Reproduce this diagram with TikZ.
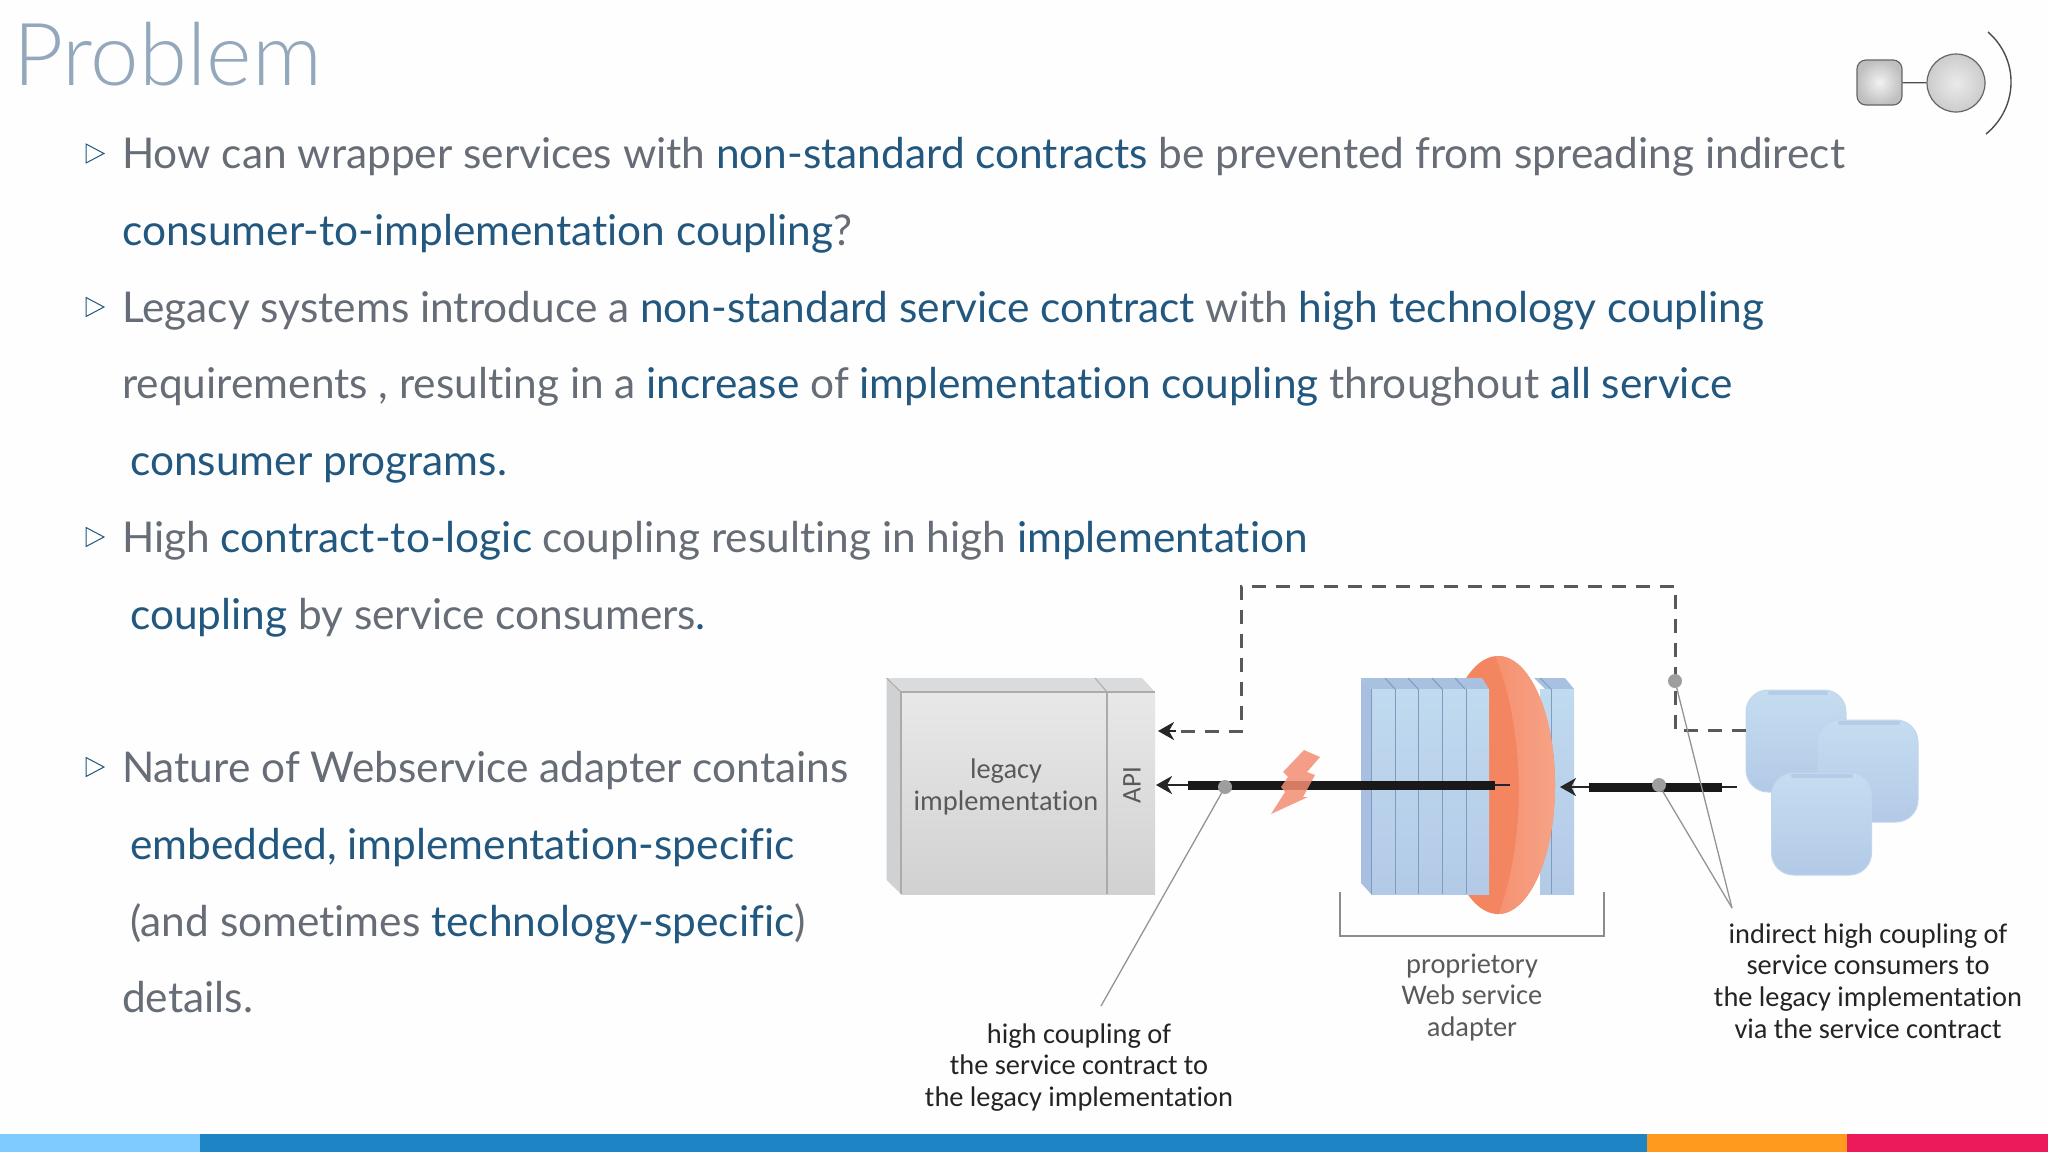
\documentclass[tikz,border=0pt]{standalone}
\usepackage{fontspec}
\setmainfont{Lato}[Ligatures=NoCommon]
\newfontfamily\ttlfont{Lato Light}[Ligatures=NoCommon]
\newfontfamily\dgfont{Carlito}[Ligatures=NoCommon]
\usetikzlibrary{arrows.meta}
\definecolor{txtgray}{HTML}{666D76}
\definecolor{txtblue}{HTML}{22587F}
\definecolor{ttlcol}{HTML}{93A8BC}
\definecolor{dgtext}{HTML}{222426}
\definecolor{panelA}{HTML}{C0DAEF}
\definecolor{panelB}{HTML}{B3CAE7}
\definecolor{panelLine}{HTML}{7F9CBE}
\definecolor{panelSide}{HTML}{A9BFE2}
\definecolor{panelTop}{HTML}{A8C1E0}
\definecolor{disk}{HTML}{F38560}
\definecolor{diskLight}{HTML}{F7A488}
\definecolor{barA}{HTML}{7FCBFF}
\definecolor{barB}{HTML}{1F84C4}
\definecolor{barC}{HTML}{FF9A1F}
\definecolor{barD}{HTML}{EC1A5B}
\definecolor{boxTop}{HTML}{DADBDD}
\definecolor{boxSide}{HTML}{D0D1D3}
\definecolor{bolt}{HTML}{F38E73}
\newcommand{\B}[1]{\textcolor{txtblue}{#1}}
\tikzset{
  lineText/.style={anchor=base west,inner sep=0pt,text=txtgray,font=\fontsize{42.4}{50}\selectfont},
  bulletMark/.style={draw=txtblue,line width=1pt,fill=white,line join=miter},
  dgLabel/.style={align=center,inner sep=0pt,text=dgtext,font=\dgfont\fontsize{28.4}{31.7}\selectfont},
  thickBar/.style={line width=9pt,draw=black!90},
  thinBar/.style={line width=2.4pt,draw=black!85},
  arrowed/.style={-{Stealth[length=16pt,width=18pt,inset=5pt]}},
  dashLink/.style={line width=3pt,draw=black!65,dash pattern=on 14pt off 10pt},
  leader/.style={line width=1.3pt,draw=black!42},
  dotMark/.style={circle,fill=black!38,inner sep=0pt,minimum size=14pt},
  consumer/.style={rounded corners=22pt,draw=panelB!80!white,line width=1pt,top color=panelA!92!white,bottom color=panelB,minimum width=100pt,minimum height=102pt,inner sep=0pt},
  consumerTop/.style={line width=4pt,draw=panelTop!55!panelA,line cap=round},
  panelLn/.style={line width=1pt,draw=panelLine},
}
\begin{document}
\begin{tikzpicture}[x=1pt,y=-1pt]
\useasboundingbox (0,0) rectangle (2048,1152);
\fill[white!99.5!black] (0,0) rectangle (2048,1152);
% footer bar
\fill[barA] (0,1134) rectangle (200,1152);
\fill[barB] (200,1134) rectangle (1647,1152);
\fill[barC] (1647,1134) rectangle (1847,1152);
\fill[barD] (1847,1134) rectangle (2048,1152);
% title
\node[anchor=base west,inner sep=0pt,text=ttlcol,font=\ttlfont\fontsize{87}{89}\selectfont] (title) at (13,85) {Problem};
% body text
\node[lineText] (l1) at (122,168) {How can wrapper services with \B{non-standard contracts} be prevented from spreading indirect};
\node[lineText] (l2) at (122,245) {\B{consumer-to-implementation coupling}?};
\node[lineText] (l3) at (122,322) {Legacy systems introduce a \B{non-standard service contract} with \B{high technology coupling}};
\node[lineText] (l4) at (122,398) {requirements , resulting in a \B{increase} of \B{implementation coupling} throughout \B{all service}};
\node[lineText] (l5) at (130,475) {\B{consumer programs.}};
\node[lineText] (l6) at (122,552) {High \B{contract-to-logic} coupling resulting in high \B{implementation}};
\node[lineText] (l7) at (130,629) {\B{coupling} by service consumers\B{.}};
\node[lineText] (l8) at (122,782) {Nature of Webservice adapter contains};
\node[lineText] (l9) at (130,859) {\B{embedded, implementation-specific}};
\node[lineText] (l10) at (130,936) {(and sometimes \B{technology-specific})};
\node[lineText] (l11) at (122,1012) {details.};
% bullets
\foreach \by in {153.5,307,537,767}
  \draw[bulletMark] (86,\by-9.5) -- (104,\by) -- (86,\by+9.5) -- cycle;
% logo
\node[draw=black!60,line width=1.2pt,rounded corners=9pt,minimum width=45pt,minimum height=45pt,inner sep=0pt,inner color=white!95!black,outer color=black!25] (logoS) at (1879.5,82.5) {};
\node[circle,draw=black!60,line width=1.2pt,minimum size=58pt,inner sep=0pt,inner color=white!92!black,outer color=black!20] (logoC) at (1956,83) {};
\draw[line width=1.2pt,draw=black!70] (logoS) -- (logoC);
\draw[line width=1.4pt,draw=black!70] (1988,32) .. controls (2020,60) and (2018,108) .. (1986,134);
% legacy box
\fill[boxTop] (886.5,678) -- (1142,678) -- (1155,692) -- (901,692) -- cycle;
\fill[boxSide] (886.5,678) -- (901,692) -- (901,894) -- (886.5,880) -- cycle;
\shade[top color=black!9,bottom color=black!18] (901,692) rectangle (1155,894);
\draw[line width=1.2pt,draw=black!33] (901,692) -- (1155,692);
\draw[line width=1.2pt,draw=black!33] (901,692) -- (901,894);
\draw[line width=1.2pt,draw=black!33] (1107,692) -- (1107,894);
\draw[line width=1pt,draw=black!33] (1095,678) -- (1107,692);
\draw[line width=1pt,draw=black!33] (886.5,678) -- (901,692);
\node[dgLabel,text=black!65] (legacy) at (1006,787) {legacy\\implementation};
\node[dgLabel,text=black!65,rotate=90,font=\dgfont\fontsize{27}{30}\selectfont] (api) at (1132,785) {API};
% rear panel
\fill[panelTop] (1534,678) -- (1565,678) -- (1574,689) -- (1545,689) -- cycle;
\shade[top color=panelA,bottom color=panelB] (1540,689) rectangle (1574,894);
\draw[panelLn] (1551,689) -- (1551,894);
\draw[panelLn] (1540,678) -- (1551,689);
% disk
\fill[disk] (1498,785) ellipse [x radius=57,y radius=129];
\begin{scope}
\clip (1498,785) ellipse [x radius=57,y radius=129];
\shade[left color=disk!60!diskLight,right color=diskLight] (1495,656) .. controls (1522,720) and (1530,830) .. (1498,916) -- (1560,916) -- (1560,656) -- cycle;
\end{scope}
% front panels
\fill[panelSide] (1361,678) -- (1371,689) -- (1371,894) -- (1361,883) -- cycle;
\fill[panelTop] (1361,678) -- (1482,678) -- (1489,689) -- (1371,689) -- cycle;
\shade[top color=panelA,bottom color=panelB] (1371,689) rectangle (1489,894);
\foreach \px in {1371,1395,1418,1442,1466}
  \draw[panelLn] (\px,689) -- (\px,894);
\foreach \px in {1385,1408,1432,1455}
  \draw[panelLn] (\px,678) -- (\px+10,689);
% consumers
\node[consumer] (consA) at (1796,741) {};
\draw[consumerTop] (1770,692.5) -- (1826,692.5);
\node[consumer] (consB) at (1868,771) {};
\draw[consumerTop] (1840,722.5) -- (1898,722.5);
\node[consumer] (consC) at (1821.5,824) {};
\draw[consumerTop] (1793,775.5) -- (1851,775.5);
% connector anchors
\coordinate (apiTop) at (1158,731);
\coordinate (apiMid) at (1156,785);
\coordinate (leftBarA) at (1188,785);
\coordinate (leftBarB) at (1495,785);
\coordinate (leftThin) at (1510,785);
\coordinate (rearTip) at (1560,787);
\coordinate (rightBarA) at (1589,787);
\coordinate (rightBarB) at (1722,787);
\coordinate (rightThin) at (1737,787);
\coordinate (leadL) at (1101,1006);
\coordinate (leadR) at (1732,908);
% dashed link
\draw[dashLink] (consA.west |- 0,730) -- (1675,730) -- (1675,586) -- (1241,586) -- (1241,731) -- (1176,731);
\draw[line width=2.6pt,draw=black!85,arrowed] (1176,731) -- (apiTop);
% solid links
\draw[thinBar,arrowed] (leftBarA) -- (apiMid);
\draw[thickBar] (leftBarA) -- (leftBarB);
\draw[thinBar] (leftBarB) -- (leftThin);
\draw[thinBar,arrowed] (rightBarA) -- (rearTip);
\draw[thickBar] (rightBarA) -- (rightBarB);
\draw[thinBar] (rightBarB) -- (rightThin);
% leaders and dots
\node[dotMark] (dotL) at (1225,787) {};
\node[dotMark] (dotM) at (1659,785) {};
\node[dotMark] (dotT) at (1675,681) {};
\draw[leader] (dotL) -- (leadL);
\draw[leader] (dotM) -- (leadR);
\draw[leader] (dotT) -- (leadR);
% lightning
\fill[bolt,fill opacity=.85] (1304,750) -- (1320,757) -- (1307,772) -- (1315,775) -- (1303,797) -- (1308,797) -- (1271,814) -- (1285,792) -- (1281,787) -- (1288,777) -- (1283,772) -- cycle;
% bracket
\draw[line width=1.8pt,draw=black!45] (1340,892) -- (1340,936) -- (1604,936) -- (1604,892);
% labels
\node[dgLabel,text=black!65] (prop) at (1472,997.5) {proprietory\\Web service\\adapter};
\node[dgLabel] (hcoup) at (1079,1067.5) {high coupling of\\the service contract to\\the legacy implementation};
\node[dgLabel] (icoup) at (1868,981) {indirect high coupling of\\service consumers to\\the legacy implementation\\via the service contract};
\end{tikzpicture}
\end{document}
